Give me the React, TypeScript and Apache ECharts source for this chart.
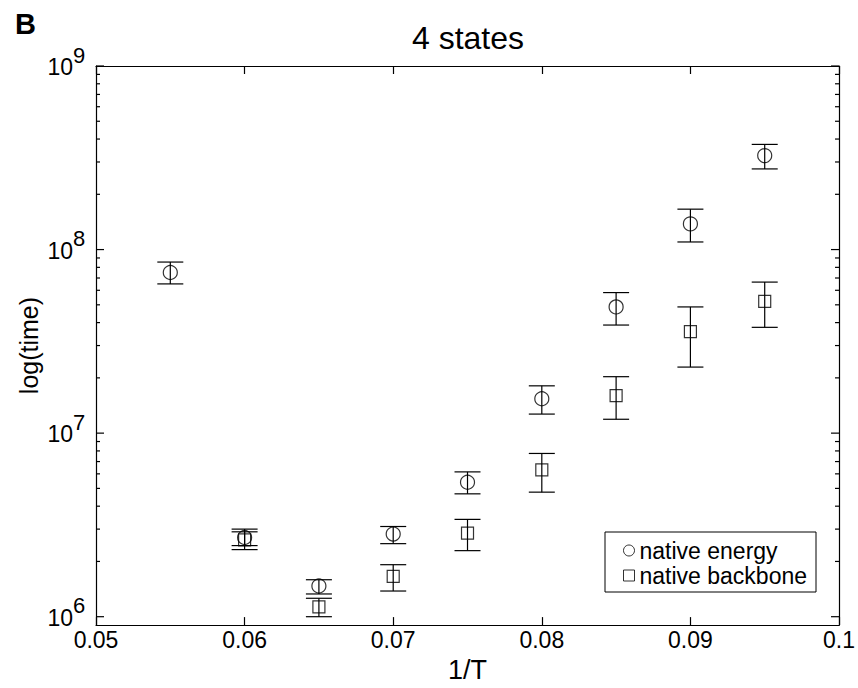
import React, { useEffect, useRef } from 'react';
import * as echarts from 'echarts';

const FONT = '"Liberation Sans", Arial, Helvetica, sans-serif';

// 1/T values
const invTemp = [0.055, 0.06, 0.065, 0.07, 0.075, 0.08, 0.085, 0.09, 0.095];

// native energy (circles)
const energyTime = [7.5e7, 2.7e6, 1.47e6, 2.82e6, 5.4e6, 1.54e7, 4.87e7, 1.38e8, 3.25e8];
const energyLow = [6.5e7, 2.44e6, 1.33e6, 2.5e6, 4.67e6, 1.27e7, 3.88e7, 1.1e8, 2.75e8];
const energyHigh = [8.55e7, 3.0e6, 1.59e6, 3.1e6, 6.15e6, 1.81e7, 5.83e7, 1.66e8, 3.74e8];

// native backbone (squares)
const backboneTime = [null, 2.62e6, 1.13e6, 1.66e6, 2.85e6, 6.3e6, 1.6e7, 3.57e7, 5.22e7];
const backboneLow = [null, 2.32e6, 1.0e6, 1.38e6, 2.29e6, 4.77e6, 1.19e7, 2.29e7, 3.77e7];
const backboneHigh = [null, 2.9e6, 1.26e6, 1.92e6, 3.39e6, 7.75e6, 2.03e7, 4.87e7, 6.65e7];

// axes
const xMin = 0.05;
const xMax = 0.1;
const xStep = 0.01;
const yMinValue = 9e5;
const yMaxValue = 1e9;
const yDecadeExponents = [6, 7, 8, 9];
const yMinorMultipliers = [2, 3, 4, 5, 6, 7, 8, 9];

const lg = (v: number) => Math.log10(v);

function buildPoints(vals: (number | null)[]) {
  const out: number[][] = [];
  invTemp.forEach((x, i) => {
    const v = vals[i];
    if (v != null) out.push([x, lg(v)]);
  });
  return out;
}

function buildBars(lo: (number | null)[], hi: (number | null)[]) {
  const out: number[][] = [];
  invTemp.forEach((x, i) => {
    const a = lo[i];
    const b = hi[i];
    if (a != null && b != null) out.push([x, lg(a), lg(b)]);
  });
  return out;
}

function buildYTicks() {
  const out: number[][] = [];
  yDecadeExponents.forEach((e) => {
    out.push([xMin, e, 1]);
    if (e < 9) {
      yMinorMultipliers.forEach((m) => out.push([xMin, lg(m * Math.pow(10, e)), 0]));
    }
  });
  return out;
}

const LINE = '#000';

export default function App() {
  const ref = useRef<HTMLDivElement>(null);

  useEffect(() => {
    document.body.style.margin = '0';
    if (!ref.current) return;
    const chart = echarts.init(ref.current, null, { renderer: 'svg' });

    const errStyle = { stroke: LINE, lineWidth: 1.2, fill: 'none' };
    const errorRender = (params: any, api: any) => {
      const x = api.value(0);
      const a = api.coord([x, api.value(1)]);
      const b = api.coord([x, api.value(2)]);
      const w = 13;
      return {
        type: 'group',
        children: [
          { type: 'line', shape: { x1: a[0], y1: a[1], x2: b[0], y2: b[1] }, style: errStyle },
          { type: 'line', shape: { x1: a[0] - w, y1: a[1], x2: a[0] + w, y2: a[1] }, style: errStyle },
          { type: 'line', shape: { x1: b[0] - w, y1: b[1], x2: b[0] + w, y2: b[1] }, style: errStyle },
        ],
      };
    };

    const tickRender = (params: any, api: any) => {
      const v = api.value(1);
      const major = api.value(2) === 1;
      const p0 = api.coord([xMin, v]);
      const p1 = api.coord([xMax, v]);
      const len = major ? 8 : 4;
      const st = { stroke: LINE, lineWidth: 1.2 };
      const children: any[] = [
        { type: 'line', shape: { x1: p0[0], y1: p0[1], x2: p0[0] + len, y2: p0[1] }, style: st },
        { type: 'line', shape: { x1: p1[0], y1: p1[1], x2: p1[0] - len, y2: p1[1] }, style: st },
      ];
      if (major) {
        children.push({
          type: 'text',
          style: {
            text: '10',
            x: p0[0] - 23,
            y: p0[1] + 1,
            align: 'right',
            verticalAlign: 'middle',
            fontSize: 23,
            fontFamily: FONT,
            fill: '#000',
          },
        });
        children.push({
          type: 'text',
          style: {
            text: String(Math.round(v)),
            x: p0[0] - 23,
            y: p0[1] - 11,
            align: 'left',
            verticalAlign: 'middle',
            fontSize: 22,
            fontFamily: FONT,
            fill: '#000',
          },
        });
      }
      return { type: 'group', children };
    };

    const axisLine = { show: true, lineStyle: { color: LINE, width: 1.2 } };

    chart.setOption({
      animation: false,
      backgroundColor: '#fff',
      title: [
        {
          text: '4 states',
          left: 468,
          top: 22,
          textAlign: 'center',
          padding: 0,
          textStyle: { fontSize: 32, fontWeight: 'normal', color: '#000', fontFamily: FONT },
        },
        {
          text: 'B',
          left: 15,
          top: 9,
          padding: 0,
          textStyle: { fontSize: 29, fontWeight: 'bold', color: '#000', fontFamily: FONT },
        },
      ],
      legend: {
        data: [
          { name: 'native energy', icon: 'circle' },
          { name: 'native backbone', icon: 'rect' },
        ],
        orient: 'vertical',
        left: 605,
        top: 532,
        padding: [6, 9, 4, 16],
        itemGap: 0,
        itemWidth: 11,
        itemHeight: 11,
        borderColor: '#000',
        borderWidth: 1,
        backgroundColor: '#fff',
        itemStyle: { color: 'none', borderColor: '#000', borderWidth: 1 },
        textStyle: { fontSize: 23, lineHeight: 25, color: '#000', fontFamily: FONT },
        selectedMode: false,
      },
      grid: { left: 96, right: 18, top: 66, bottom: 55 },
      xAxis: [
        {
          type: 'value',
          min: xMin,
          max: xMax,
          interval: xStep,
          position: 'bottom',
          name: '1/T',
          nameLocation: 'middle',
          nameGap: 25,
          nameTextStyle: { fontSize: 27, color: '#000', fontFamily: FONT },
          axisLine,
          axisTick: { show: true, inside: true, length: 8, lineStyle: { color: LINE, width: 1.2 } },
          axisLabel: {
            show: true,
            margin: 3,
            fontSize: 23,
            color: '#000',
            fontFamily: FONT,
            formatter: (v: number) => String(parseFloat(v.toFixed(3))),
          },
          splitLine: { show: false },
        },
        {
          type: 'value',
          min: xMin,
          max: xMax,
          interval: xStep,
          position: 'top',
          axisLine,
          axisTick: { show: true, inside: true, length: 8, lineStyle: { color: LINE, width: 1.2 } },
          axisLabel: { show: false },
          splitLine: { show: false },
        },
      ],
      yAxis: [
        {
          type: 'value',
          min: lg(yMinValue),
          max: lg(yMaxValue),
          position: 'left',
          name: 'log(time)',
          nameLocation: 'middle',
          nameGap: 55,
          nameTextStyle: { fontSize: 25, color: '#000', fontFamily: FONT },
          axisLine,
          axisTick: { show: false },
          axisLabel: { show: false },
          splitLine: { show: false },
        },
        {
          type: 'value',
          min: lg(yMinValue),
          max: lg(yMaxValue),
          position: 'right',
          axisLine,
          axisTick: { show: false },
          axisLabel: { show: false },
          splitLine: { show: false },
        },
      ],
      series: [
        {
          type: 'custom',
          name: 'yticks',
          silent: true,
          clip: false,
          renderItem: tickRender,
          data: buildYTicks(),
          encode: { x: 0, y: 1 },
          z: 5,
        },
        {
          type: 'custom',
          name: 'energy error',
          silent: true,
          renderItem: errorRender,
          data: buildBars(energyLow, energyHigh),
          encode: { x: 0, y: [1, 2] },
          z: 3,
        },
        {
          type: 'custom',
          name: 'backbone error',
          silent: true,
          renderItem: errorRender,
          data: buildBars(backboneLow, backboneHigh),
          encode: { x: 0, y: [1, 2] },
          z: 3,
        },
        {
          type: 'scatter',
          name: 'native energy',
          symbol: 'circle',
          symbolSize: 14,
          itemStyle: { color: 'none', borderColor: '#000', borderWidth: 1.2 },
          data: buildPoints(energyTime),
          z: 4,
        },
        {
          type: 'scatter',
          name: 'native backbone',
          symbol: 'rect',
          symbolSize: 12,
          itemStyle: { color: 'none', borderColor: '#000', borderWidth: 1.2 },
          data: buildPoints(backboneTime),
          z: 4,
        },
      ],
    });

    return () => chart.dispose();
  }, []);

  return <div ref={ref} style={{ width: 858, height: 688 }} />;
}
